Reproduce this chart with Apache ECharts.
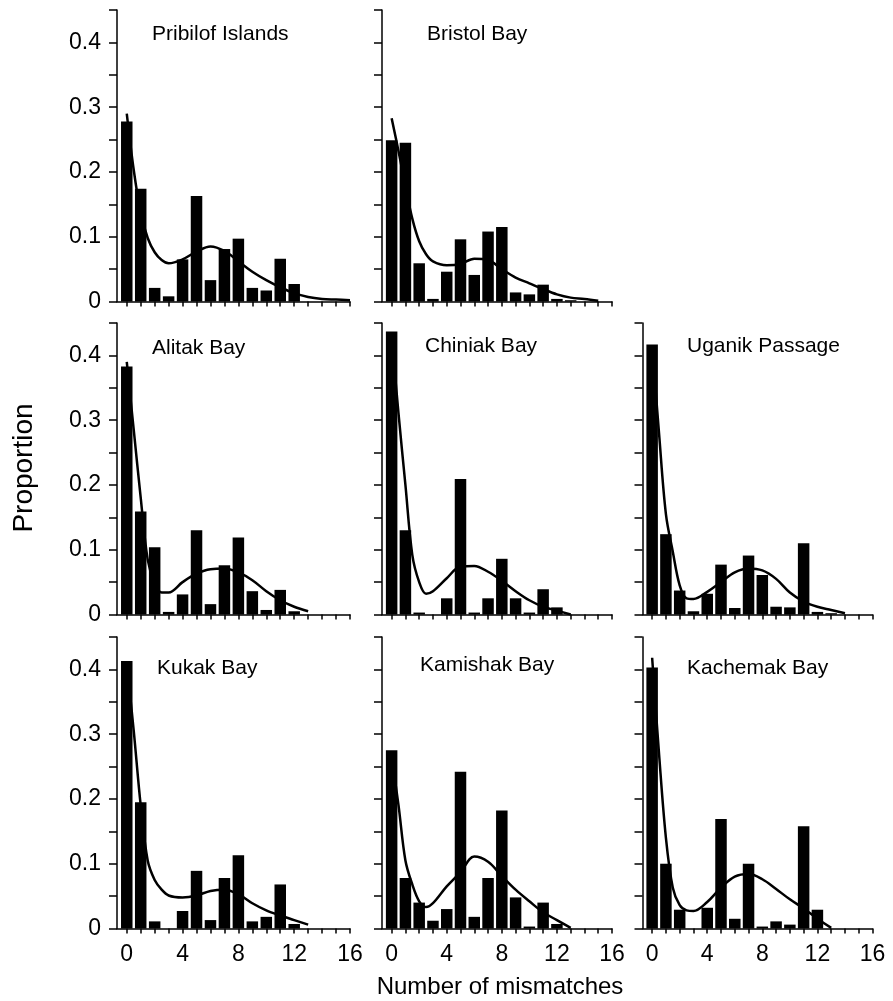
<!DOCTYPE html>
<html>
<head>
<meta charset="utf-8">
<script src="https://cdn.jsdelivr.net/npm/echarts@6/dist/echarts.min.js"></script>
<style>
html,body{margin:0;padding:0;background:#fff;}
#chart{width:893px;height:1001px;}
</style>
</head>
<body>
<div id="chart"></div>
<script>
// ---- data ----
const mismatches = [0,1,2,3,4,5,6,7,8,9,10,11,12,13,14,15,16];
const xTickLabels = [0,4,8,12,16];
const yTickLabels = [0,0.1,0.2,0.3,0.4];
const panelNames = ['Pribilof Islands','Bristol Bay','Alitak Bay','Chiniak Bay','Uganik Passage','Kukak Bay','Kamishak Bay','Kachemak Bay'];

const pribilofBars = [0.278,0.174,0.021,0.008,0.065,0.163,0.033,0.081,0.097,0.021,0.017,0.066,0.027,0,0,0,0];
const bristolBars  = [0.249,0.245,0.059,0.004,0.046,0.096,0.041,0.108,0.115,0.014,0.011,0.026,0.004,0.002,0,0,0];
const alitakBars   = [0.383,0.159,0.104,0.004,0.031,0.130,0.016,0.076,0.119,0.036,0.007,0.038,0.005,0,0,0,0];
const chiniakBars  = [0.437,0.130,0.003,0,0.025,0.209,0.003,0.025,0.086,0.025,0.003,0.039,0.011,0,0,0,0];
const uganikBars   = [0.417,0.124,0.037,0.005,0.032,0.077,0.010,0.091,0.061,0.012,0.011,0.110,0.004,0.002,0,0,0];
const kukakBars    = [0.413,0.195,0.011,0,0.027,0.089,0.013,0.078,0.113,0.011,0.018,0.068,0.007,0,0,0,0];
const kamishakBars = [0.275,0.078,0.040,0.012,0.030,0.242,0.018,0.078,0.182,0.048,0.003,0.040,0.007,0,0,0,0];
const kachemakBars = [0.403,0.100,0.029,0,0.032,0.169,0.015,0.100,0.003,0.011,0.006,0.158,0.029,0,0,0,0];

const curveX = [0,0.5,1,1.5,2,2.5,3,4,5,6,7,8,9,10,11,12,13,14,15,16];
const pribilofCurve = [0.290,0.203,0.137,0.098,0.076,0.064,0.059,0.065,0.077,0.085,0.078,0.062,0.046,0.033,0.022,0.013,0.007,0.004,0.003,0.002];
const bristolCurve  = [0.283,0.232,0.178,0.128,0.093,0.073,0.062,0.056,0.058,0.066,0.064,0.050,0.037,0.028,0.019,0.011,0.006,0.004,0.001,null];
const alitakCurve   = [0.390,0.285,0.180,0.085,0.048,0.034,0.034,0.050,0.063,0.070,0.071,0.065,0.053,0.036,0.022,0.012,0.005,null,null,null];
const chiniakCurve  = [0.430,0.310,0.200,0.092,0.050,0.032,0.036,0.056,0.074,0.075,0.066,0.052,0.036,0.022,0.012,0.006,0.000,null,null,null];
const uganikCurve   = [0.415,0.280,0.155,0.097,0.045,0.025,0.024,0.035,0.050,0.065,0.071,0.068,0.055,0.034,0.020,0.012,0.007,0.002,null,null];
const kukakCurve    = [0.410,0.305,0.190,0.105,0.075,0.060,0.051,0.048,0.051,0.058,0.060,0.053,0.039,0.028,0.020,0.013,0.006,null,null,null];
const kamishakCurve = [0.265,0.190,0.105,0.068,0.042,0.033,0.039,0.065,0.087,0.111,0.103,0.081,0.060,0.042,0.025,0.013,0.001,null,null,null];
const kachemakCurve = [0.418,0.270,0.140,0.063,0.036,0.028,0.027,0.041,0.063,0.080,0.084,0.076,0.061,0.045,0.031,0.015,0.001,null,null,null];

const allBars = [pribilofBars,bristolBars,alitakBars,chiniakBars,uganikBars,kukakBars,kamishakBars,kachemakBars];
const allCurves = [pribilofCurve,bristolCurve,alitakCurve,chiniakCurve,uganikCurve,kukakCurve,kamishakCurve,kachemakCurve];

// ---- layout ----
const panelPos = [[0,0],[0,1],[1,0],[1,1],[1,2],[2,0],[2,1],[2,2]]; // [row,col]
const colLeft = [117, 382, 642.5];
const colWidth = [233, 230, 230];
const rowTop = [10, 323, 637];
const rowHeight = 291.5;
const xMin = -0.7, xMax = 16, yMax = 0.45;
const titlePos = [[152,33.5],[427,33.5],[152,347.5],[425,346],[687,346],[157,667.5],[420,665],[687,667.5]];

const FONT = 'Liberation Sans, Arial, sans-serif';
const xTicks = mismatches.slice();
const yTicks = [0,0.05,0.1,0.15,0.2,0.25,0.3,0.35,0.4,0.45];

const grids = [], xAxes = [], yAxes = [], series = [], graphics = [];
panelPos.forEach(([r,c], i) => {
  grids.push({left: colLeft[c], top: rowTop[r], width: colWidth[c], height: rowHeight, containLabel: false});
  xAxes.push({
    type: 'value', gridIndex: i, min: xMin, max: xMax,
    axisLine: {show: true, onZero: false, lineStyle: {color: '#000', width: 1.5}},
    axisTick: {show: true, length: 5, customValues: xTicks, lineStyle: {color: '#000', width: 1.5}},
    axisLabel: {show: r === 2, customValues: xTickLabels, color: '#000', fontSize: 23, fontFamily: FONT, margin: 15},
    splitLine: {show: false}
  });
  yAxes.push({
    type: 'value', gridIndex: i, min: 0, max: yMax,
    axisLine: {show: true, onZero: false, lineStyle: {color: '#000', width: 1.5}},
    axisTick: {show: true, length: 8, customValues: yTicks, lineStyle: {color: '#000', width: 1.5}},
    axisLabel: {show: c === 0, customValues: yTickLabels, color: '#000', fontSize: 23, fontFamily: FONT, margin: 16,
      padding: [0, 0, 7, 0],
      formatter: v => (Math.abs(v) < 1e-9 ? '0' : v.toFixed(1))},
    splitLine: {show: false}
  });
  series.push({
    type: 'bar', xAxisIndex: i, yAxisIndex: i, barWidth: 11.5,
    itemStyle: {color: '#000'}, silent: true,
    data: mismatches.map((m,k) => [m, allBars[i][k]])
  });
  series.push({
    type: 'line', xAxisIndex: i, yAxisIndex: i, smooth: 0.35, symbol: 'none', silent: true,
    lineStyle: {color: '#000', width: 2.5}, z: 3,
    data: curveX.map((x,k) => [x, allCurves[i][k]]).filter(p => p[1] !== null)
  });
  graphics.push({
    type: 'text', left: titlePos[i][0], top: titlePos[i][1] - 10,
    style: {text: panelNames[i], font: '21px ' + FONT, fill: '#000'}
  });
});

graphics.push({
  type: 'text', x: 24, y: 468, rotation: Math.PI / 2,
  style: {text: 'Proportion', font: '28px ' + FONT, fill: '#000', align: 'center', verticalAlign: 'middle'}
});
graphics.push({
  type: 'text', x: 500, y: 987,
  style: {text: 'Number of mismatches', font: '24px ' + FONT, fill: '#000', align: 'center', verticalAlign: 'middle'}
});

const chart = echarts.init(document.getElementById('chart'), null, {renderer: 'canvas'});
chart.setOption({
  animation: false,
  backgroundColor: '#fff',
  grid: grids, xAxis: xAxes, yAxis: yAxes, series: series, graphic: graphics
});
</script>
</body>
</html>
